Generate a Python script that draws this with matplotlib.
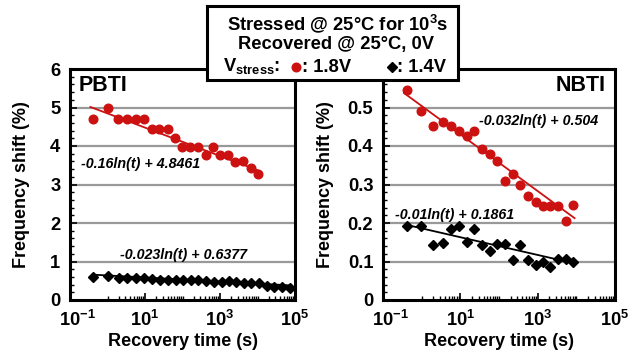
import numpy as np
import matplotlib
matplotlib.use("Agg")
import matplotlib.pyplot as plt
import matplotlib.transforms as mtransforms
from matplotlib.ticker import FixedLocator, MultipleLocator, NullFormatter

plt.rcParams['font.family'] = ['Liberation Sans', 'DejaVu Sans']
plt.rcParams['font.weight'] = 'bold'
plt.rcParams['mathtext.fontset'] = 'custom'
plt.rcParams['mathtext.rm'] = 'Liberation Sans:bold'
plt.rcParams['mathtext.bf'] = 'Liberation Sans:bold'
plt.rcParams['mathtext.it'] = 'Liberation Sans:bold'

RED = '#CC1111'

# PBTI data (recovery time in s, frequency shift in %)
pbti_t_18 = [0.4, 1.0, 1.9, 3.3, 5.6, 9.4, 15, 24, 40, 62, 97, 160, 260, 415,
             640, 1000, 1630, 2550, 4200, 6600, 10300]
pbti_f_18 = [4.70, 5.00, 4.70, 4.70, 4.71, 4.70, 4.43, 4.43, 4.43, 4.20, 3.97,
             3.97, 3.97, 3.77, 3.97, 3.77, 3.77, 3.59, 3.61, 3.42, 3.27]
pbti_t_14 = [0.4, 1.0, 2.0, 3.4, 5.7, 9.3, 15.5, 25, 40, 66, 100, 165, 265, 425,
             680, 1100, 1700, 2750, 4400, 6900, 11000, 17500, 28000, 45000, 72000]
pbti_f_14 = [0.60, 0.62, 0.58, 0.57, 0.58, 0.56, 0.54, 0.53, 0.52, 0.53, 0.52,
             0.51, 0.51, 0.49, 0.47, 0.48, 0.49, 0.46, 0.44, 0.44, 0.44, 0.37,
             0.35, 0.34, 0.31]

# NBTI data
nbti_t_18 = [0.42, 0.98, 2.0, 3.5, 5.6, 9.3, 14.5, 23, 37, 58, 91, 144, 225, 355,
             560, 890, 1380, 2100, 3400, 5300, 8400]
nbti_f_18 = [0.546, 0.490, 0.451, 0.463, 0.452, 0.440, 0.426, 0.439, 0.392,
             0.380, 0.360, 0.308, 0.328, 0.299, 0.271, 0.254, 0.245, 0.245,
             0.245, 0.206, 0.247]
nbti_t_14 = nbti_t_18
nbti_f_14 = [0.191, 0.191, 0.142, 0.149, 0.184, 0.193, 0.150, 0.184, 0.143,
             0.127, 0.145, 0.145, 0.104, 0.143, 0.104, 0.091, 0.100, 0.085,
             0.107, 0.107, 0.099]

# log fits shown on the chart: (a, b, t_start, t_end) for a*ln(t) + b
pbti_fit_18 = (-0.16, 4.8461, 0.35, 10300)
pbti_fit_14 = (-0.023, 0.6377, 0.4, 72000)
nbti_fit_18 = (-0.032, 0.504, 0.35, 9000)
nbti_fit_14 = (-0.01, 0.1861, 0.42, 9000)

W, H = 634, 360
fig = plt.figure(figsize=(W / 100, H / 100), dpi=100)
EQ_FS = 10.3
TICK_FS = 13.2
LAB_FS = 13


def fit_line(ax, fit, color):
    a, b, t0, t1 = fit
    t = np.logspace(np.log10(t0), np.log10(t1), 50)
    ax.plot(t, a * np.log(t) + b, color=color, lw=1.3, zorder=3)


def style_axes(ax, ymax, ymajor, yminor, yticks):
    ax.set_xscale('log')
    ax.set_xlim(0.1, 1e5)
    ax.set_ylim(0, ymax)
    ax.set_xticks([0.1, 10, 1e3, 1e5])
    ax.set_xticklabels(['$10^{-1}$', '$10^{1}$', '$10^{3}$', '$10^{5}$'])
    minors = [m * 10.0 ** e for e in range(0, 5) for m in range(2, 10)]
    minors += [1, 100, 1e4]
    ax.xaxis.set_minor_locator(FixedLocator(minors))
    ax.xaxis.set_minor_formatter(NullFormatter())
    ax.set_yticks(yticks)
    ax.yaxis.set_minor_locator(MultipleLocator(yminor))
    for g in np.arange(ymajor, ymax - 1e-9, ymajor):
        ax.axhline(g, color='#999999', lw=1.6, zorder=1)
    ax.tick_params(axis='both', which='major', direction='in', length=5,
                   width=1.2, labelsize=TICK_FS, top=False, right=False)
    ax.tick_params(axis='x', which='major', pad=7)
    ax.tick_params(axis='y', which='major', pad=7)
    ax.tick_params(axis='both', which='minor', direction='in', length=3,
                   width=1.0, top=False, right=False)
    for s in ax.spines.values():
        s.set_linewidth(2.2)
    ax.set_xlabel('Recovery time (s)', fontsize=LAB_FS, fontweight='bold', labelpad=2)
    ax.set_ylabel('Frequency shift (%)', fontsize=LAB_FS, fontweight='bold')
    # the 10^-1 label sits a little right of its tick, as in the source
    lab = ax.get_xticklabels()[0]
    lab.set_transform(lab.get_transform() +
                      mtransforms.ScaledTranslation(7 / 100, 0, fig.dpi_scale_trans))


# left: PBTI
ax1 = fig.add_axes([70 / W, 1 - 300 / H, 225 / W, 231 / H])
style_axes(ax1, 6, 1, 0.2, [0, 1, 2, 3, 4, 5, 6])
fit_line(ax1, pbti_fit_18, RED)
fit_line(ax1, pbti_fit_14, 'black')
ax1.plot(pbti_t_18, pbti_f_18, 'o', color=RED, ms=6.2, mec=RED, zorder=4)
ax1.plot(pbti_t_14, pbti_f_14, 'D', color='black', ms=5.5, zorder=4)
ax1.text(0.2, 3.52, '-0.16ln(t) + 4.8461', fontsize=EQ_FS, style='italic',
         fontweight='bold', va='center', ha='left')
ax1.text(2.1, 1.17, '-0.023ln(t) + 0.6377', fontsize=EQ_FS, style='italic',
         fontweight='bold', va='center', ha='left')
ax1.text(0.04, 0.93, 'PBTI', transform=ax1.transAxes, fontsize=15.5,
         fontweight='bold', va='center', ha='left')
ax1.yaxis.set_label_coords(-0.178, 0.5)

# right: NBTI
ax2 = fig.add_axes([383 / W, 1 - 300 / H, 232 / W, 231 / H])
style_axes(ax2, 0.6, 0.1, 0.02, [0, 0.1, 0.2, 0.3, 0.4, 0.5])
ax2.set_yticklabels(['0', '0.1', '0.2', '0.3', '0.4', '0.5'])
fit_line(ax2, nbti_fit_18, RED)
fit_line(ax2, nbti_fit_14, 'black')
ax2.plot(nbti_t_18, nbti_f_18, 'o', color=RED, ms=6.2, mec=RED, zorder=4)
ax2.plot(nbti_t_14, nbti_f_14, 'D', color='black', ms=5.5, zorder=4)
ax2.text(31, 0.465, '-0.032ln(t) + 0.504', fontsize=EQ_FS, style='italic',
         fontweight='bold', va='center', ha='left')
ax2.text(0.2, 0.221, '-0.01ln(t) + 0.1861', fontsize=EQ_FS, style='italic',
         fontweight='bold', va='center', ha='left')
ax2.text(0.96, 0.93, 'NBTI', transform=ax2.transAxes, fontsize=15.5,
         fontweight='bold', va='center', ha='right')
ax2.yaxis.set_label_coords(-0.211, 0.5)

# legend box
lg = fig.add_axes([207 / W, 1 - 80 / H, 251 / W, 74 / H], zorder=10)
lg.set_xlim(207, 458)
lg.set_ylim(80, 6)
lg.set_xticks([])
lg.set_yticks([])
for s in lg.spines.values():
    s.set_linewidth(2.2)
LG_FS = 13.2
lg.text(338, 24, 'Stressed @ 25°C for 10$^3$s', fontsize=LG_FS, fontweight='bold',
        ha='center', va='center')
lg.text(336, 44, 'Recovered @ 25°C, 0V', fontsize=LG_FS, fontweight='bold',
        ha='center', va='center')
lg.text(223, 66, 'V$_{stress}$:', fontsize=LG_FS, fontweight='bold',
        ha='left', va='center')
lg.plot([296], [67], 'o', color=RED, ms=6.2)
lg.text(302, 67, ': 1.8V', fontsize=LG_FS, fontweight='bold', ha='left', va='center')
lg.plot([392], [67], 'D', color='black', ms=4.8)
lg.text(397, 67, ': 1.4V', fontsize=LG_FS, fontweight='bold', ha='left', va='center')

fig.savefig('out.png', dpi=100)
